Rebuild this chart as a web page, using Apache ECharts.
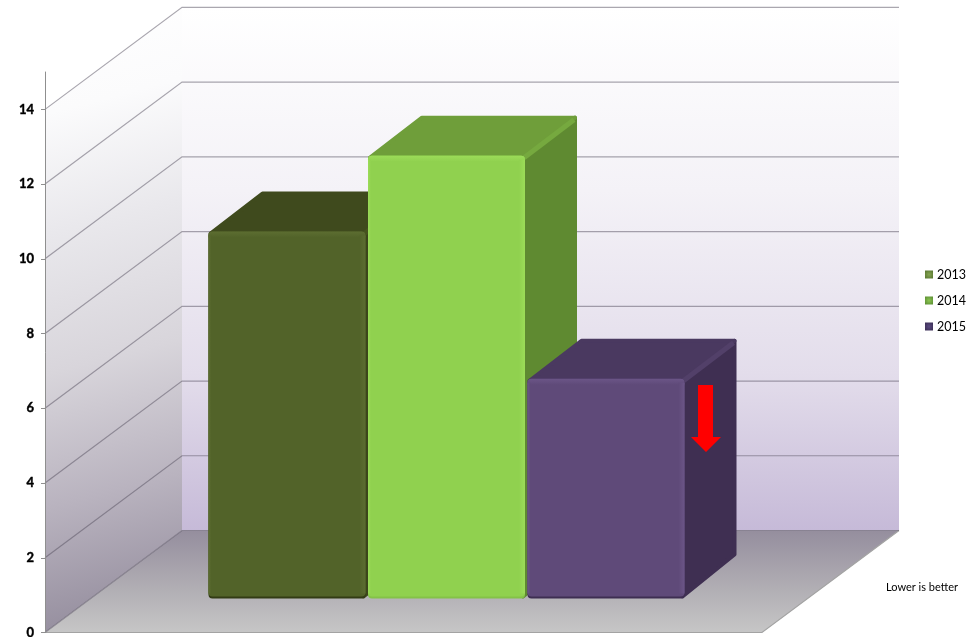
<!DOCTYPE html>
<html>
<head>
<meta charset="utf-8">
<style>html,body{margin:0;padding:0;background:#fff}#c{width:976px;height:637px}</style>
<script src="https://cdn.jsdelivr.net/npm/echarts@6/dist/echarts.min.js"></script>
</head>
<body>
<div id="c"></div>
<script>
const categories = ['Result'];
const years = ['2013', '2014', '2015'];
const values2013 = [9.82];
const values2014 = [11.85];
const values2015 = [5.88];
const tickValues = [0, 2, 4, 6, 8, 10, 12, 14];
const note = 'Lower is better';

const WALL = { dx: 137, dy: 102 };
const BAR = { dx: 52, dy: 40, liftX: 43, liftY: 34, slot: 159.5, width: 157 };
const skins = [
  { front: '#526329', top: '#3f4a1d', side: '#3c461b', hi: '#5c6d31', lo: '#323c15', ridge: '#46521f' },
  { front: '#90d14f', top: '#6f9e3a', side: '#5f8a31', hi: '#9cdc59', lo: '#84c248', ridge: '#76a93f' },
  { front: '#5f4a79', top: '#4a3960', side: '#3f2f52', hi: '#6b5587', lo: '#3e2e52', ridge: '#524069' }
];
const legendSkins = [['#86a553', '#5c7a33'], ['#8cc653', '#5f9235'], ['#5a4a80', '#3d3058']];

function vGrad(stops) {
  return new echarts.graphic.LinearGradient(0, 0, 0, 1, stops.map(c => ({ offset: c[0], color: c[1] })));
}

function renderWalls(params, api) {
  const o = api.coord([0, 0]);
  const t = api.coord([0, 14]);
  const w = api.size([1, 0])[0];
  const x0 = o[0] - w / 2;
  const y0 = o[1];
  const yt = t[1];
  const leftWall = {
    type: 'polygon',
    shape: { points: [[x0, yt], [x0 + WALL.dx, yt - WALL.dy], [x0 + WALL.dx, y0 - WALL.dy], [x0, y0]] },
    style: {
      fill: new echarts.graphic.LinearGradient(0, 0, 1.2, 1, [
        { offset: 0, color: '#ffffff' },
        { offset: 0.16, color: '#fbfbfc' },
        { offset: 0.34, color: '#e9e8ec' },
        { offset: 0.55, color: '#d8d5db' },
        { offset: 0.75, color: '#b9b3bf' },
        { offset: 0.94, color: '#968f9f' },
        { offset: 1, color: '#8f8799' }
      ])
    }
  };
  const backWall = {
    type: 'rect',
    shape: { x: x0 + WALL.dx, y: yt - WALL.dy, width: w, height: y0 - yt },
    style: {
      fill: vGrad([[0, '#ffffff'], [0.35, '#f4f2f7'], [0.7, '#e3ddeb'], [1, '#c6bad8']])
    }
  };
  const floor = {
    type: 'polygon',
    shape: { points: [[x0, y0], [x0 + w, y0], [x0 + w + WALL.dx, y0 - WALL.dy], [x0 + WALL.dx, y0 - WALL.dy]] },
    style: {
      fill: vGrad([[0, '#958e9e'], [0.55, '#b0adb3'], [1, '#c6c6c6']])
    }
  };
  const edges = {
    type: 'polyline',
    shape: { points: [[x0, y0], [x0 + w, y0], [x0 + w + WALL.dx, y0 - WALL.dy]] },
    style: { fill: 'none', stroke: '#a3a3a3', lineWidth: 1.2 }
  };
  return { type: 'group', children: [backWall, leftWall, floor, edges] };
}

function renderGridline(params, api) {
  const p = api.coord([0, api.value(1)]);
  const w = api.size([1, 0])[0];
  const x0 = p[0] - w / 2;
  const y = p[1];
  return {
    type: 'polyline',
    shape: { points: [[x0, y], [x0 + WALL.dx, y - WALL.dy], [x0 + WALL.dx + w, y - WALL.dy]] },
    style: { fill: 'none', stroke: 'rgba(85,80,95,0.5)', lineWidth: 1.2 }
  };
}

function renderBar(index) {
  return function (params, api) {
    const s = skins[index];
    const c = api.coord([0, api.value(1)]);
    const b = api.coord([0, 0]);
    const l = c[0] + BAR.liftX + (index - 1) * BAR.slot - BAR.width / 2;
    const r = l + BAR.width;
    const t = c[1] - BAR.liftY;
    const f = b[1] - BAR.liftY;
    const dx = BAR.dx, dy = BAR.dy;
    return {
      type: 'group',
      children: [
        { type: 'polygon', shape: { points: [[r - 2, t + 2], [r + dx - 2, t - dy + 2], [r + dx - 2, f - dy - 4], [r - 2, f - 2]] },
          style: { fill: s.side, stroke: s.side, lineWidth: 4, lineJoin: 'round' } },
        { type: 'polygon', shape: { points: [[l + 2, t + 2], [l + dx + 2, t - dy + 2], [r + dx - 2, t - dy + 2], [r - 2, t + 2]] },
          style: { fill: s.top, stroke: s.top, lineWidth: 4, lineJoin: 'round' } },
        { type: 'line', shape: { x1: r - 1, y1: t + 2, x2: r + dx - 3, y2: t - dy + 4 },
          style: { stroke: s.ridge, lineWidth: 5 } },
        { type: 'rect', shape: { x: l, y: t, width: BAR.width, height: f - t, r: 4 },
          style: { fill: s.lo } },
        { type: 'rect', shape: { x: l, y: t, width: BAR.width, height: f - t - 2, r: 4 },
          style: { fill: s.front } },
        { type: 'rect', shape: { x: l, y: t, width: BAR.width, height: 6, r: [4, 4, 0, 0] },
          style: { fill: vGrad([[0, s.hi], [1, s.front]]) } },
        { type: 'rect', shape: { x: l, y: t + 4, width: 3, height: f - t - 9 },
          style: { fill: new echarts.graphic.LinearGradient(0, 0, 1, 0, [{ offset: 0, color: s.hi }, { offset: 1, color: s.front }]) } },
        { type: 'rect', shape: { x: r - 6, y: t + 4, width: 6, height: f - t - 9 },
          style: { fill: new echarts.graphic.LinearGradient(0, 0, 1, 0, [{ offset: 0, color: s.front }, { offset: 1, color: s.hi }]) } }
      ]
    };
  };
}

const chart = echarts.init(document.getElementById('c'), null, { renderer: 'canvas' });
chart.setOption({
  animation: false,
  backgroundColor: '#ffffff',
  textStyle: { fontFamily: 'Lato' },
  grid: { left: 45, right: 214, top: 72, bottom: 4.5, outerBoundsMode: 'none', containLabel: false },
  xAxis: { type: 'category', data: categories, show: false },
  yAxis: {
    type: 'value', min: 0, max: 15, z: 1,
    axisLine: { show: true, lineStyle: { color: '#8f8f8f', width: 1 } },
    axisTick: { show: true, length: 4, customValues: tickValues, lineStyle: { color: '#8f8f8f' } },
    axisLabel: { customValues: tickValues, fontSize: 13, fontWeight: 'bold', color: '#000', fontFamily: 'Lato', margin: 11, padding: [2, 0, 0, 0], textBorderColor: '#000', textBorderWidth: 0.4 },
    splitLine: { show: false }
  },
  legend: {
    data: years.map((y, i) => ({
      name: y,
      icon: 'rect',
      itemStyle: {
        color: new echarts.graphic.RadialGradient(0.5, 0.5, 0.6, [
          { offset: 0, color: legendSkins[i][0] }, { offset: 1, color: legendSkins[i][1] }
        ]),
        borderWidth: 0
      }
    })),
    orient: 'vertical', left: 920, top: 263, itemWidth: 8, itemHeight: 8, itemGap: 13, selectedMode: false,
    textStyle: { fontSize: 12.5, color: '#000', fontFamily: 'Lato', padding: [0, 0, 0, -1] }
  },
  series: [
    { name: 'walls', type: 'custom', z: 0, silent: true, coordinateSystem: 'cartesian2d', renderItem: renderWalls, data: [[0, 0]], encode: { x: 0, y: 1 } },
    { name: 'gridlines', type: 'custom', z: 0, silent: true, coordinateSystem: 'cartesian2d', renderItem: renderGridline, data: tickValues.map(v => [0, v]), encode: { x: 0, y: 1 } },
    { name: years[0], type: 'custom', z: 2, coordinateSystem: 'cartesian2d', renderItem: renderBar(0), data: values2013.map((v, i) => [i, v]), encode: { x: 0, y: 1 } },
    { name: years[1], type: 'custom', z: 3, coordinateSystem: 'cartesian2d', renderItem: renderBar(1), data: values2014.map((v, i) => [i, v]), encode: { x: 0, y: 1 } },
    { name: years[2], type: 'custom', z: 4, coordinateSystem: 'cartesian2d', renderItem: renderBar(2), data: values2015.map((v, i) => [i, v]), encode: { x: 0, y: 1 } }
  ],
  graphic: [
    { type: 'polygon', z: 100, shape: { points: [[698, 385], [713, 385], [713, 437], [721, 437], [706, 452], [691, 437], [698, 437]] }, style: { fill: '#ff0000' } },
    { type: 'text', z: 100, left: 886, top: 582, style: { text: note, font: '11px Lato', fill: '#000' } }
  ]
});
</script>
</body>
</html>
